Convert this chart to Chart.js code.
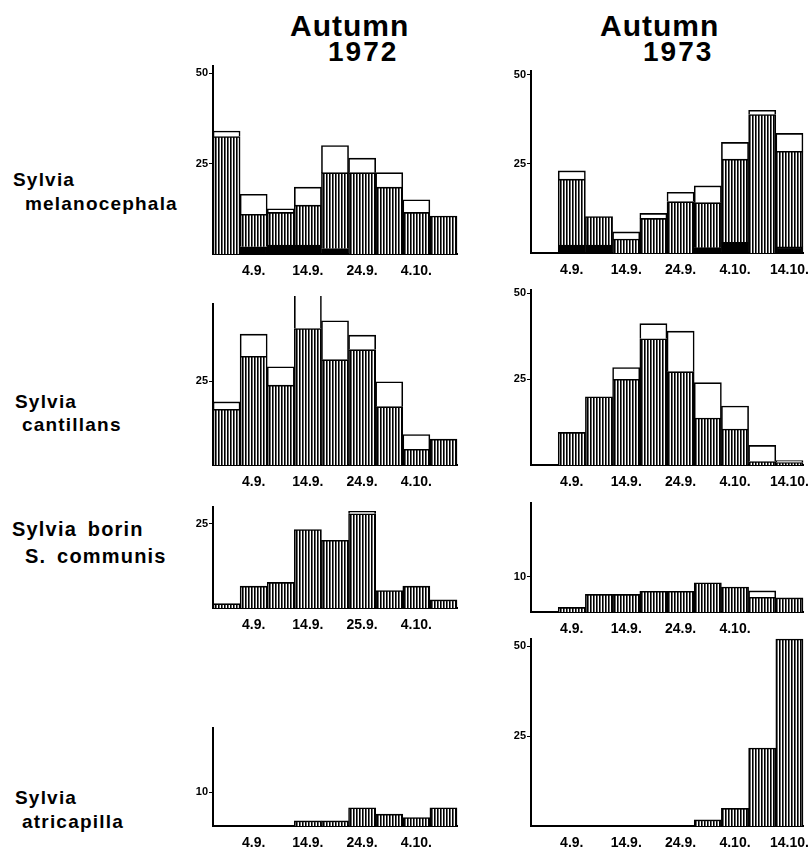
<!DOCTYPE html>
<html>
<head>
<meta charset="utf-8">
<script src="https://cdn.jsdelivr.net/npm/chart.js@4"></script>
<style>
  body { margin: 0; background: #fff; }
  #page { position: relative; width: 812px; height: 847px; overflow: hidden; background: #fff; }
  .t { position: absolute; font-family: 'Liberation Sans', Arial, sans-serif; font-weight: bold; line-height: 1; color: #000; white-space: nowrap; }
  .title { font-size: 30px; letter-spacing: 1px; }
  .year { font-size: 28px; letter-spacing: 2px; }
  .sp { font-size: 19px; letter-spacing: 1.2px; }
  canvas { position: absolute; }
</style>
</head>
<body>
<div id="page">
  <div class="t title" style="left:290px; top:11px;">Autumn</div>
  <div class="t year" style="left:328px; top:38px;">1972</div>
  <div class="t title" style="left:600px; top:11px;">Autumn</div>
  <div class="t year" style="left:643px; top:38px;">1973</div>

  <div class="t sp" style="left:13px; top:170px;">Sylvia</div>
  <div class="t sp" style="left:25px; top:194px;">melanocephala</div>
  <div class="t sp" style="left:15px; top:392px;">Sylvia</div>
  <div class="t sp" style="left:22px; top:415px;">cantillans</div>
  <div class="t sp" style="left:12px; top:519px; font-size:20px; word-spacing:4px;">Sylvia borin</div>
  <div class="t sp" style="left:25px; top:546px; font-size:20px; word-spacing:4px;">S. communis</div>
  <div class="t sp" style="left:15px; top:788px;">Sylvia</div>
  <div class="t sp" style="left:22px; top:812px;">atricapilla</div>
</div>

<script>
// x labels (one per 5-day period, only every second one is printed)
const labels72  = ['', '4.9.', '', '14.9.', '', '24.9.', '', '4.10.', ''];
const labels72b = ['', '4.9.', '', '14.9.', '', '25.9.', '', '4.10.', ''];
const labels73  = ['', '4.9.', '', '14.9.', '', '24.9.', '', '4.10.', '', '14.10.'];
const labels73b = ['', '4.9.', '', '14.9.', '', '24.9.', '', '4.10.', '', ''];

// Sylvia melanocephala
const mel72Solid = [0, 2, 2.5, 2.5, 1.5, 0, 0, 0, 0];
const mel72Hatch = [32.5, 9, 9, 11, 21, 22.5, 18.5, 11.5, 10.5];
const mel72Open  = [1.5, 5.5, 1, 5, 7.5, 4, 4, 3.5, 0];
const mel73Solid = [0, 2.2, 2.2, 0, 0, 0, 1.5, 3, 0, 1.7];
const mel73Hatch = [0, 18.5, 8, 3.9, 9.7, 14.4, 12.6, 23.3, 38.8, 26.8];
const mel73Open  = [0, 2.3, 0, 2, 1.4, 2.6, 4.7, 4.7, 1.2, 5];

// Sylvia cantillans
const can72Hatch = [16.6, 32.4, 23.8, 40.7, 31.4, 34.4, 17.4, 4.7, 7.7];
const can72Open  = [2.2, 6.6, 5.5, 11.2, 11.6, 4.3, 7.4, 4.4, 0];
const can73Hatch = [0, 9.5, 19.9, 25, 36.8, 27.2, 13.7, 10.5, 1, 0.7];
const can73Open  = [0, 0, 0, 3.4, 4.4, 11.8, 10.3, 6.7, 4.7, 0.6];

// Sylvia borin / S. communis
const bor72Hatch = [1.3, 6.5, 7.6, 23.3, 20.1, 28, 5.2, 6.5, 2.4];
const bor72Open  = [0, 0, 0, 0, 0, 0.7, 0, 0, 0];
const bor73Hatch = [0, 1.3, 5, 5, 5.9, 5.9, 8.3, 7.1, 4.2, 4];
const bor73Open  = [0, 0, 0, 0, 0, 0, 0, 0, 1.8, 0];

// Sylvia atricapilla
const atr72Hatch = [0, 0, 0, 1.5, 1.5, 5.4, 3.5, 2.5, 5.4];
const atr73Hatch = [0, 0, 0, 0, 0, 0, 1.7, 4.9, 21.7, 52];

// vertical hatching like the printed figure
function makeHatch() {
  const c = document.createElement('canvas');
  c.width = 3; c.height = 3;
  const g = c.getContext('2d');
  g.fillStyle = '#fff'; g.fillRect(0, 0, 3, 3);
  g.fillStyle = '#000'; g.fillRect(0, 0, 1, 3);
  g.fillStyle = '#666'; g.fillRect(1, 0, 1, 3);
  return g.createPattern(c, 'repeat');
}
const hatch = makeHatch();

const yW = 34, xH = 22, padTop = 8, padRight = 12;
const tickFont = { family: "'Liberation Sans Narrow', 'Liberation Sans', Arial", weight: 'bold', size: 14 };
const yFont = { family: "'Liberation Sans Narrow', 'Liberation Sans', Arial", weight: 'bold', size: 11 };

function makePanel(p) {
  const canvas = document.createElement('canvas');
  const w = yW + (p.right - p.x) + padRight;
  const h = padTop + (p.bottom - p.top) + xH;
  canvas.width = w; canvas.height = h;
  canvas.style.left = (p.x - yW) + 'px';
  canvas.style.top = (p.top - padTop) + 'px';
  document.getElementById('page').appendChild(canvas);

  const sets = [];
  if (p.solid) sets.push({ data: p.solid, backgroundColor: '#000' });
  sets.push({ data: p.hatch, backgroundColor: hatch });
  if (p.open) sets.push({ data: p.open, backgroundColor: '#fff' });
  sets.forEach(s => {
    s.borderColor = '#000';
    s.borderWidth = 1.6;
    s.barPercentage = 1;
    s.categoryPercentage = 1;
    s.clip = false;
  });

  return new Chart(canvas, {
    type: 'bar',
    data: { labels: p.labels, datasets: sets },
    options: {
      responsive: false,
      animation: false,
      layout: { padding: { top: padTop, right: padRight, left: 0, bottom: 0 } },
      plugins: { legend: { display: false }, tooltip: { enabled: false } },
      scales: {
        x: {
          stacked: true,
          grid: { display: false },
          border: { display: true, color: '#000', width: 2 },
          ticks: { color: '#000', font: tickFont, autoSkip: false, maxRotation: 0, padding: 1 },
          afterFit: s => { s.height = xH; }
        },
        y: {
          stacked: true,
          min: 0,
          max: p.max,
          afterBuildTicks: s => { s.ticks = p.ticks.map(v => ({ value: v })); },
          grid: { drawOnChartArea: false, drawTicks: true, tickLength: 4, color: '#000', lineWidth: 1 },
          border: { display: true, color: '#000', width: 2 },
          ticks: { color: '#000', font: yFont, padding: 1 },
          afterFit: s => { s.width = yW; }
        }
      }
    }
  });
}

// where each small chart sits on the page
const panels = [
  { x: 213, right: 457, top: 66,  bottom: 254, max: 52, ticks: [25, 50], labels: labels72,  solid: mel72Solid, hatch: mel72Hatch, open: mel72Open },
  { x: 531, right: 803, top: 71,  bottom: 253, max: 51, ticks: [25, 50], labels: labels73,  solid: mel73Solid, hatch: mel73Hatch, open: mel73Open },
  { x: 213, right: 457, top: 304, bottom: 465, max: 48, ticks: [25],     labels: labels72,  hatch: can72Hatch, open: can72Open },
  { x: 531, right: 803, top: 290, bottom: 465, max: 51, ticks: [25, 50], labels: labels73,  hatch: can73Hatch, open: can73Open },
  { x: 213, right: 457, top: 507, bottom: 608, max: 30, ticks: [25],     labels: labels72b, hatch: bor72Hatch, open: bor72Open },
  { x: 531, right: 803, top: 503, bottom: 612, max: 31, ticks: [10],     labels: labels73b, hatch: bor73Hatch, open: bor73Open },
  { x: 213, right: 457, top: 728, bottom: 826, max: 29, ticks: [10],     labels: labels72,  hatch: atr72Hatch },
  { x: 531, right: 803, top: 639, bottom: 826, max: 52, ticks: [25, 50], labels: labels73,  hatch: atr73Hatch }
];

panels.forEach(makePanel);
</script>
</body>
</html>
